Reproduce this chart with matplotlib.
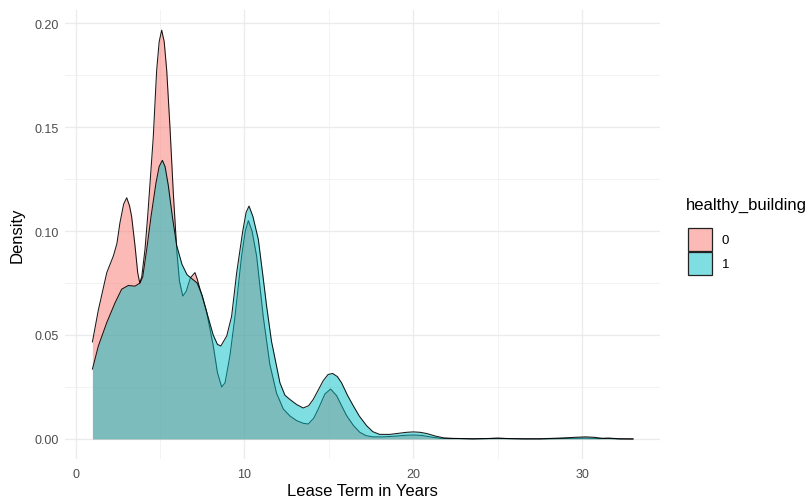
import matplotlib
matplotlib.use("Agg")
import matplotlib.pyplot as plt
from matplotlib.patches import Rectangle

# ---- data (density curves) ----
group_labels = ["0", "1"]
x0 = [1.0, 1.35, 1.85, 2.24, 2.45, 2.63, 2.85, 3.03, 3.2, 3.32, 3.52, 3.68, 3.8, 3.92,
      4.11, 4.27, 4.41, 4.6, 4.8, 4.95, 5.1, 5.25, 5.4, 5.59, 5.79, 6.0, 6.15, 6.35, 6.55,
      6.8, 7.07, 7.2, 7.37, 7.76, 8.15, 8.4, 8.65, 8.85, 9.14, 9.44, 9.83, 10.05, 10.23,
      10.45, 10.72, 11.11, 11.5, 11.9, 12.3, 12.7, 13.09, 13.5, 13.78, 14.1, 14.37, 14.76,
      15.1, 15.46, 15.75, 16.05, 16.45, 16.83, 17.2, 17.6, 18.2, 19.0, 19.6, 20.0, 20.5,
      21.0, 21.6, 22.3, 22.8, 23.5, 24.5, 25.0, 25.5, 26.5, 27.5, 28.6, 29.5, 30.2, 31.0,
      31.5, 32.2, 33.0]
y0 = [0.0467, 0.062, 0.080, 0.088, 0.094, 0.104, 0.113, 0.116, 0.112, 0.107, 0.093, 0.080,
      0.075, 0.078, 0.091, 0.107, 0.123, 0.145, 0.177, 0.191, 0.1966, 0.191, 0.177, 0.150,
      0.118, 0.090, 0.076, 0.0687, 0.071, 0.0775, 0.080, 0.077, 0.072, 0.061, 0.045, 0.032,
      0.025, 0.027, 0.040, 0.059, 0.088, 0.100, 0.105, 0.100, 0.088, 0.059, 0.036, 0.022,
      0.0144, 0.011, 0.0088, 0.0075, 0.0072, 0.0100, 0.0144, 0.0216, 0.024, 0.0208, 0.016,
      0.0112, 0.0065, 0.0032, 0.0016, 0.0010, 0.0010, 0.0014, 0.0018, 0.0019, 0.0017,
      0.0010, 0.0003, 0.0002, 0.0002, 0.0000, 0.0002, 0.0003, 0.0002, 0.0000, 0.0000,
      0.0002, 0.0003, 0.0004, 0.0002, 0.0003, 0.0000, 0.0000]

x1 = [1.0, 1.35, 1.85, 2.34, 2.73, 3.12, 3.52, 3.82, 3.98, 4.21, 4.47, 4.76, 4.95, 5.14,
      5.3, 5.49, 5.73, 5.99, 6.3, 6.6, 6.9, 7.2, 7.5, 7.8, 8.15, 8.4, 8.6, 8.95, 9.24, 9.54,
      9.9, 10.1, 10.27, 10.5, 10.82, 11.1, 11.31, 11.6, 11.9, 12.1, 12.4, 12.69, 13.1,
      13.48, 13.8, 14.07, 14.4, 14.66, 14.95, 15.22, 15.5, 15.75, 16.1, 16.44, 16.8, 17.23,
      17.6, 18.0, 18.6, 19.2, 19.6, 20.0, 20.4, 20.8, 21.3, 21.8, 22.3, 22.8, 23.5, 24.3,
      25.0, 25.6, 26.5, 27.5, 28.6, 29.6, 30.2, 30.7, 31.2, 31.6, 32.2, 33.0]
y1 = [0.0336, 0.0447, 0.056, 0.0655, 0.072, 0.0738, 0.0735, 0.075, 0.078, 0.091, 0.107,
      0.123, 0.131, 0.134, 0.131, 0.122, 0.107, 0.093, 0.084, 0.079, 0.077, 0.075, 0.069,
      0.060, 0.050, 0.0455, 0.0447, 0.0495, 0.059, 0.080, 0.100, 0.109, 0.112, 0.107, 0.096,
      0.078, 0.064, 0.047, 0.035, 0.027, 0.021, 0.019, 0.0165, 0.0149, 0.016, 0.019, 0.024,
      0.028, 0.031, 0.0315, 0.030, 0.027, 0.021, 0.016, 0.011, 0.0064, 0.0035, 0.0022,
      0.0022, 0.0028, 0.0032, 0.0034, 0.0032, 0.0026, 0.0014, 0.0005, 0.0003, 0.0002,
      0.0001, 0.0002, 0.0004, 0.0002, 0.0001, 0.0001, 0.0004, 0.0008, 0.0010, 0.0008,
      0.0003, 0.0004, 0.0001, 0.0000]

x_ticks = [0, 10, 20, 30]
y_ticks = [0.00, 0.05, 0.10, 0.15, 0.20]
x_title = "Lease Term in Years"
y_title = "Density"
legend_title = "healthy_building"

# ---- styling ----
plt.rcParams['font.family'] = ['Liberation Sans', 'DejaVu Sans']
fill_colors = ["#F8766D", "#00BFC4"]
alpha = 0.5

W, H = 808, 502
fig = plt.figure(figsize=(W / 100, H / 100), dpi=100)
fig.patch.set_facecolor("white")
left_px, right_px, top_px, bottom_px = 65.4, 660.0, 10.7, 460.4
ax = fig.add_axes([left_px / W, 1 - bottom_px / H, (right_px - left_px) / W,
                   (bottom_px - top_px) / H])

for xs, ys, col, z in [(x0, y0, fill_colors[0], 2), (x1, y1, fill_colors[1], 4)]:
    ax.fill_between(xs, 0, ys, color=col, alpha=alpha, linewidth=0, zorder=z)
    ax.plot(xs, ys, color="black", lw=0.75, zorder=z + 0.5, alpha=0.9,
            solid_joinstyle="round")

xmin, xmax = 1.0, 33.0
xr = xmax - xmin
ax.set_xlim(xmin - 0.05 * xr, xmax + 0.05 * xr)
ymax = max(max(y0), max(y1))
ax.set_ylim(-0.05 * ymax, ymax * 1.05)

ax.set_xticks(x_ticks)
ax.set_xticklabels([str(t) for t in x_ticks])
ax.set_yticks(y_ticks)
ax.set_yticklabels([f"{t:.2f}" for t in y_ticks])
ax.set_xticks([5, 15, 25], minor=True)
ax.set_yticks([0.025, 0.075, 0.125, 0.175], minor=True)

ax.grid(True, which="major", color="#EBEBEB", lw=0.9, zorder=0)
ax.grid(True, which="minor", color="#F0F0F0", lw=0.55, zorder=0)
ax.set_axisbelow(True)
for s in ax.spines.values():
    s.set_visible(False)
ax.tick_params(which="both", length=0)
ax.tick_params(axis="both", labelsize=9, labelcolor="#4D4D4D")
ax.tick_params(axis="x", pad=6)
ax.tick_params(axis="y", pad=5)

ax.set_xlabel(x_title, fontsize=12, color="black", labelpad=2)
ax.set_ylabel(y_title, fontsize=12, color="black", labelpad=6.5)

# ---- legend ----
fig.text(686 / W, 1 - 205 / H, legend_title, fontsize=12, va="center", ha="left")
key_w, key_h = 24, 23
for i, (lab, col) in enumerate(zip(group_labels, fill_colors)):
    top = 229 + i * key_h + i
    r = Rectangle((688 / W, 1 - (top + key_h) / H), key_w / W, key_h / H,
                  transform=fig.transFigure, facecolor=col, alpha=alpha,
                  edgecolor="none")
    fig.add_artist(r)
    r2 = Rectangle((688 / W, 1 - (top + key_h) / H), key_w / W, key_h / H,
                   transform=fig.transFigure, facecolor="none",
                   edgecolor="#222222", lw=0.9)
    fig.add_artist(r2)
    fig.text(722 / W, 1 - (top + key_h / 2) / H, lab, fontsize=9.5, va="center",
             ha="left", color="black")

fig.savefig("out.png", dpi=100)
